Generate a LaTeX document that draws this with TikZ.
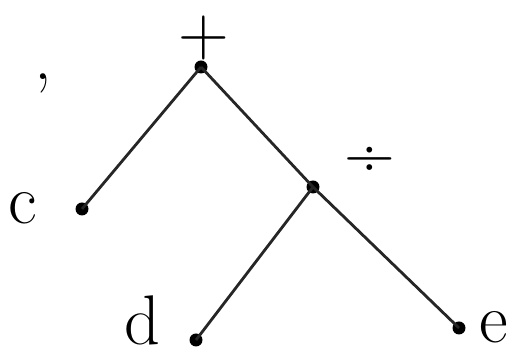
\documentclass[tikz,border=0pt]{standalone}
\usepackage{tikz}
\usetikzlibrary{positioning}

\begin{document}
\begin{tikzpicture}[
    dot/.style={circle, fill=black, inner sep=0pt, minimum size=2.6mm},
    edge/.style={line width=1.6pt, black!85},
    lab/.style={font=\fontsize{40}{44}\selectfont, inner sep=0pt},
    op/.style={font=\fontsize{40}{44}\selectfont, inner sep=0pt, text height=0.6em, text depth=0.1em}
  ]
    \useasboundingbox (0,0) rectangle (10.44,7.22);
    \node[dot] (root) at (4.02,5.88) {};
    \node[dot] (c) at (1.64,3.04) {};
    \node[dot] (div) at (6.26,3.48) {};
    \node[dot] (d) at (3.92,0.42) {};
    \node[dot] (e) at (9.18,0.66) {};
    \node[op, above=0.5mm of root, anchor=south, xshift=0.5mm] (plus) {+};
    \node[lab] (comma) at (0.86,5.55) {,};
    \node[op] (divlab) at (7.40,3.78) {÷};
    \node[lab, left=9mm of c.center, anchor=base east, yshift=-3mm] (clab) {c};
    \node[lab, left=7mm of d.center, anchor=base east, yshift=-1mm] (dlab) {d};
    \node[lab, right=4mm of e.center, anchor=base west, yshift=-3mm] (elab) {e};
    \draw[edge] (root.center) -- (c.center);
    \draw[edge] (root.center) -- (div.center);
    \draw[edge] (div.center) -- (d.center);
    \draw[edge] (div.center) -- (e.center);
  \end{tikzpicture}
\end{document}
